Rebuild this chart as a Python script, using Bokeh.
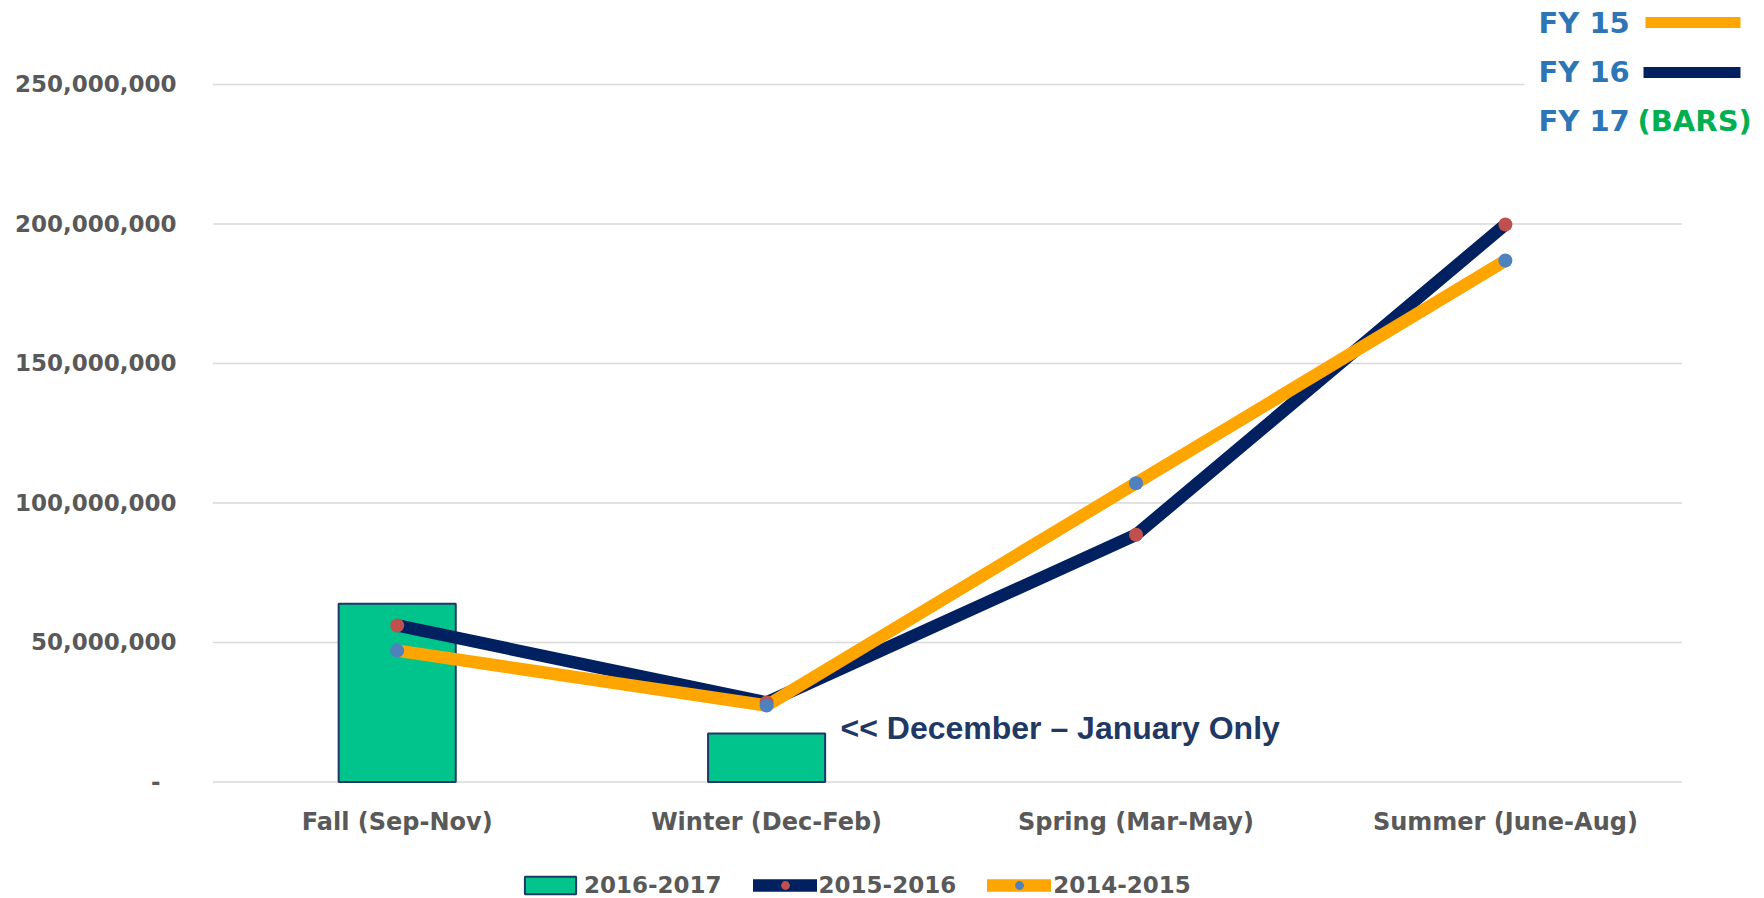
from bokeh.plotting import figure
from bokeh.models import (Range1d, FixedTicker, Legend, LegendItem, Label,
                          BoxAnnotation, ColumnDataSource)
from bokeh.core.properties import value
from bokeh.embed import file_html
from bokeh.resources import INLINE

# ---- data ----
seasons = ["Fall (Sep-Nov)", "Winter (Dec-Feb)", "Spring (Mar-May)", "Summer (June-Aug)"]
fy17_bars = [63_900_000, 17_400_000, None, None]
fy16 = [56_100_000, 28_500_000, 88_600_000, 199_800_000]
fy15 = [47_100_000, 27_400_000, 107_100_000, 186_900_000]
y_ticks = [0, 50_000_000, 100_000_000, 150_000_000, 200_000_000, 250_000_000]
y_tick_labels = ["-\u00a0\u00a0", "50,000,000", "100,000,000", "150,000,000", "200,000,000", "250,000,000"]
series_names = ["2016-2017", "2015-2016", "2014-2015"]
note_text = "<< December \u2013 January Only"
fy_labels = ["FY 15", "FY 16", "FY 17 "]
bars_word = "(BARS)"

GREEN = "#00C48C"
NAVY = "#002060"
ORANGE = "#FFA500"
RED_DOT = "#C0504D"
BLUE_DOT = "#4F81BD"
GRAY_TXT = "#595959"
FY_BLUE = "#2E75B6"

# category slots: one unit per season, centred at i + 0.5
xpos = [i + 0.5 for i in range(len(seasons))]

p = figure(width=1764, height=898, x_range=Range1d(0, 4.2014),
           y_range=Range1d(-41_760_000, 280_100_000), output_backend="svg", toolbar_location=None,
           min_border_left=212, min_border_right=0, min_border_top=0, min_border_bottom=0)
p.outline_line_color = None
p.background_fill_color = "white"
p.border_fill_color = "white"
p.xgrid.grid_line_color = None
p.ygrid.grid_line_color = None
p.xaxis.visible = False

# horizontal gridlines across the category slots
p.segment(x0=[0] * len(y_ticks), x1=[len(seasons) - 0.022] * len(y_ticks), y0=y_ticks, y1=y_ticks,
          line_color="#D9D9D9", line_width=1.5, level="underlay")

bar_x = [x for x, v in zip(xpos, fy17_bars) if v is not None]
bar_top = [v for v in fy17_bars if v is not None]
bars = p.vbar(x=bar_x, top=bar_top, bottom=0, width=0.317, fill_color=GREEN,
              line_color="#1F3864", line_width=2)

src16 = ColumnDataSource(dict(x=xpos, y=fy16))
src15 = ColumnDataSource(dict(x=xpos, y=fy15))
l16 = p.line("x", "y", source=src16, line_color=NAVY, line_width=12.5,
             line_join="round", line_cap="round")
l15 = p.line("x", "y", source=src15, line_color=ORANGE, line_width=12.5,
             line_join="round", line_cap="round")
m16 = p.scatter("x", "y", source=src16, size=14, fill_color=RED_DOT, line_color=None)
m15 = p.scatter("x", "y", source=src15, size=14, fill_color=BLUE_DOT, line_color=None)

# category labels (x axis)
p.text(x=xpos, y=[-14_500_000] * len(seasons), text=seasons,
       text_font=value("DejaVu Sans"), text_font_style="bold", text_font_size=value("24px"),
       text_color=GRAY_TXT, text_align="center", text_baseline="middle")

# y axis
p.yaxis.ticker = FixedTicker(ticks=y_ticks)
p.yaxis.major_label_overrides = dict(zip(y_ticks, y_tick_labels))
ax = p.yaxis[0]
ax.axis_line_color = None
ax.major_tick_line_color = None
ax.minor_tick_line_color = None
ax.major_tick_out = 0
ax.major_tick_in = 0
ax.minor_tick_out = 0
ax.minor_tick_in = 0
ax.major_label_text_color = GRAY_TXT
ax.major_label_text_font = "DejaVu Sans"
ax.major_label_text_font_style = "bold"
ax.major_label_text_font_size = "23px"
ax.major_label_standoff = 36

# bottom legend
legend = Legend(items=[LegendItem(label=series_names[0], renderers=[bars]),
                       LegendItem(label=series_names[1], renderers=[l16, m16]),
                       LegendItem(label=series_names[2], renderers=[l15, m15])],
                orientation="horizontal", location=(306, 0),
                glyph_width=64, glyph_height=22, label_standoff=2, spacing=31,
                padding=0, margin=0, border_line_color=None, background_fill_alpha=0,
                label_text_font="DejaVu Sans", label_text_font_style="bold",
                label_text_font_size="23px", label_text_color=GRAY_TXT)
p.add_layout(legend, "center")

# annotation next to winter bar
p.add_layout(Label(x=628, y=171, x_units="screen", y_units="screen", text=note_text,
                   text_font="Liberation Sans", text_font_style="bold",
                   text_font_size="32px", text_color="#1F3864", text_baseline="middle"))

# top-right custom key
p.add_layout(BoxAnnotation(left=1312, right=1560, bottom=758, top=900,
                           left_units="screen", right_units="screen",
                           bottom_units="screen", top_units="screen",
                           fill_color="white", fill_alpha=1, line_color=None))
for col, x0, yy in zip([ORANGE, NAVY], [1433, 1431], [876, 826]):
    p.add_layout(BoxAnnotation(left=x0, right=1528, bottom=yy - 5.5, top=yy + 5.5,
                               left_units="screen", right_units="screen",
                               bottom_units="screen", top_units="screen",
                               fill_color=col, fill_alpha=1, line_color=None))
fy_y = [876, 827, 778]
for txt, yy in zip(fy_labels, fy_y):
    p.add_layout(Label(x=1326, y=yy, x_units="screen", y_units="screen", text=txt,
                       text_font="DejaVu Sans", text_font_style="bold",
                       text_font_size="29px", text_color=FY_BLUE, text_baseline="middle"))
p.add_layout(Label(x=1425, y=fy_y[2], x_units="screen", y_units="screen", text=bars_word,
                   text_font="DejaVu Sans", text_font_style="bold",
                   text_font_size="29px", text_color="#00B050", text_baseline="middle"))

open("out.html", "w").write(file_html(p, INLINE))
